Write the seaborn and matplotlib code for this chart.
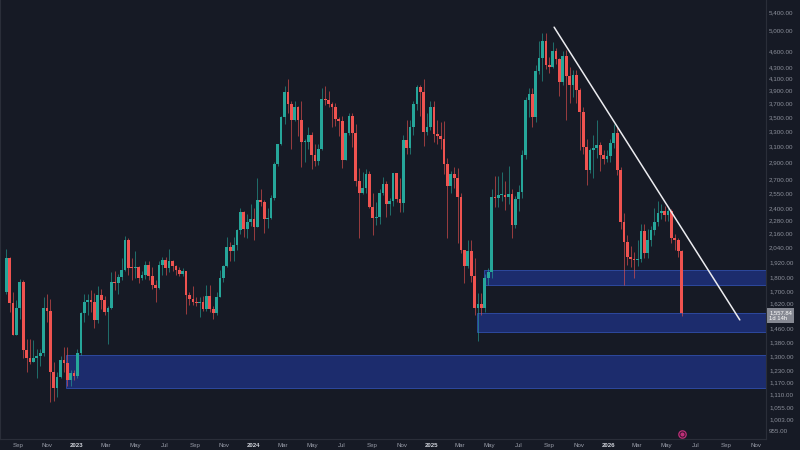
import numpy as np
import pandas as pd
import matplotlib
matplotlib.use("Agg")
import matplotlib.pyplot as plt
import matplotlib.dates as mdates
import matplotlib.ticker as mticker
import matplotlib.transforms as mtransforms
from matplotlib.patches import Rectangle
import seaborn as sns

# weekly candles, first week starts 2022-08-08
first_open = 1700
close_2022 = [1950, 1620, 1421, 1587, 1772, 1335, 1290, 1272, 1290, 1300, 1317, 1587, 1570, 1221, 1140,
              1196, 1280, 1265, 1180, 1215, 1200]
high_2022 = [2030, 1960, 1700, 1640, 1790, 1780, 1400, 1400, 1390, 1340, 1340, 1660, 1680, 1650, 1270,
             1220, 1300, 1350, 1350, 1230, 1230]
low_2022 = [1680, 1560, 1420, 1420, 1520, 1290, 1220, 1260, 1270, 1190, 1250, 1300, 1500, 1075, 1080,
            1100, 1190, 1220, 1150, 1150, 1180]

close_2023 = [1320, 1555, 1630, 1643, 1630, 1512, 1678, 1640, 1565, 1590, 1772, 1760, 1808, 1860, 2100,
              1872, 1870, 1880, 1800, 1820, 1900, 1810, 1750, 1725, 1900, 1935, 1870, 1930, 1890, 1860,
              1830, 1850, 1678, 1650, 1630, 1620, 1625, 1580, 1670, 1580, 1557, 1665, 1798, 1890, 2040,
              2010, 2060, 2190, 2360, 2200, 2270, 2290]
high_2023 = [1340, 1560, 1680, 1680, 1710, 1690, 1740, 1720, 1670, 1600, 1840, 1850, 1830, 1950, 2140,
             2125, 1950, 2010, 1890, 1850, 1930, 1930, 1880, 1780, 1930, 1960, 1960, 2030, 1940, 1900,
             1880, 1870, 1850, 1700, 1740, 1660, 1660, 1670, 1750, 1750, 1600, 1700, 1860, 1900, 2130,
             2090, 2130, 2200, 2400, 2370, 2340, 2440]
low_2023 = [1190, 1310, 1500, 1540, 1560, 1460, 1490, 1580, 1540, 1370, 1580, 1710, 1680, 1780, 1850,
            1820, 1780, 1800, 1760, 1780, 1790, 1780, 1720, 1630, 1720, 1820, 1820, 1840, 1850, 1820,
            1810, 1810, 1550, 1610, 1610, 1600, 1530, 1570, 1570, 1560, 1520, 1540, 1660, 1770, 1880,
            1930, 1930, 2020, 2160, 2130, 2120, 2230]

close_2024 = [2220, 2480, 2460, 2290, 2300, 2500, 2880, 3130, 3500, 3880, 3690, 3460, 3650, 3450, 3150,
              3150, 3250, 2990, 2920, 3070, 3770, 3750, 3690, 3640, 3470, 3440, 2930, 3270, 3510, 3280,
              2680, 2560, 2610, 2760, 2410, 2300, 2310, 2560, 2650, 2440, 2470, 2770, 2490, 2450, 3180,
              3080, 3360, 3690, 3960, 3880, 3290, 3360, 3650]
high_2024 = [2400, 2720, 2600, 2480, 2400, 2530, 2900, 3130, 3520, 3970, 4090, 3730, 3730, 3660, 3730,
             3200, 3360, 3290, 3130, 3130, 3950, 3980, 3890, 3720, 3700, 3500, 3520, 3280, 3560, 3560,
             3400, 2830, 2790, 2820, 2800, 2550, 2460, 2600, 2730, 2690, 2500, 2770, 2770, 2720, 3250,
             3450, 3450, 3730, 4000, 4000, 4100, 3550, 3740]
low_2024 = [2100, 2220, 2420, 2170, 2210, 2290, 2480, 2860, 3120, 3400, 3560, 3060, 3440, 3230, 2850,
            2900, 3060, 2820, 2860, 2870, 3050, 3680, 3640, 3360, 3370, 3240, 2830, 2960, 3250, 3090,
            2630, 2120, 2540, 2550, 2400, 2150, 2240, 2250, 2530, 2310, 2330, 2420, 2460, 2360, 2360,
            3000, 3000, 3250, 3600, 3520, 3100, 3250, 3320]

close_2025 = [3260, 3230, 3190, 2880, 2630, 2760, 2720, 2510, 2020, 1890, 2010, 1810, 1590, 1615, 1590,
              1800, 1840, 2510, 2500, 2530, 2530, 2510, 2540, 2240, 2490, 2570, 2990, 3750, 3850, 3500,
              4230, 4465, 4790, 4330, 4300, 4600, 4450, 4050, 4510, 4140, 3990, 4160, 3910, 3577, 3095,
              2807, 3055, 3075, 3110, 2990, 2946, 2980]
high_2025 = [3740, 3450, 3430, 3440, 2950, 2800, 2850, 2830, 2550, 2010, 2100, 2100, 1950, 1690, 1690,
             1830, 1870, 2600, 2740, 2740, 2790, 2680, 2860, 2600, 2520, 2640, 3050, 3800, 3940, 3940,
             4330, 4790, 4950, 4950, 4490, 4770, 4650, 4470, 4590, 4620, 4300, 4250, 4250, 3950, 3650,
             3200, 3080, 3250, 3450, 3150, 3050, 3050]
low_2025 = [3160, 3130, 3060, 2760, 2120, 2550, 2610, 2080, 1990, 1760, 1870, 1770, 1540, 1385, 1540,
            1560, 1750, 1800, 2410, 2410, 2470, 2380, 2440, 2120, 2210, 2370, 2500, 2940, 3500, 3350,
            3420, 4180, 4060, 4260, 4200, 4280, 4350, 3820, 4000, 3450, 3700, 3800, 3700, 3050, 3000,
            2640, 2780, 2720, 2950, 2800, 2880, 2900]

close_2026 = [3145, 3274, 2807, 2268, 2090, 1964, 1945, 1935, 1945, 2180, 1990, 2100, 2190, 2270, 2350,
              2370, 2330, 2370, 2120, 2100, 2010, 1557.84]
high_2026 = [3200, 3400, 3350, 2850, 2350, 2150, 2050, 2000, 2100, 2250, 2250, 2200, 2230, 2400, 2470,
             2440, 2420, 2400, 2390, 2160, 2120, 2020]
low_2026 = [2900, 3080, 2750, 2200, 1750, 1900, 1880, 1800, 1890, 1920, 1950, 1950, 2050, 2150, 2230,
            2290, 2280, 2280, 2080, 2020, 1960, 1535]

# demand zones (start date, low, high)
zone_start = ["2022-12-10", "2025-04-19", "2025-04-04"]
zone_low = [1140, 1748, 1440]
zone_high = [1308, 1860, 1553]

# falling trendline
trend_dates = ["2025-09-11", "2026-09-29"]
trend_prices = [5072, 1512]

price_ticks = [5400, 5000, 4600, 4300, 4100, 3900, 3700, 3500, 3300, 3100, 2900, 2700, 2550, 2400,
               2280, 2160, 2040, 1920, 1800, 1700, 1620, 1460, 1380, 1300, 1230, 1170, 1110, 1055,
               1003, 955]
month_ticks = pd.date_range("2022-09-01", "2026-11-01", freq="2MS")
month_labels = ["Sep", "Nov", "2023", "Mar", "May", "Jul", "Sep", "Nov", "2024", "Mar", "May", "Jul",
                "Sep", "Nov", "2025", "Mar", "May", "Jul", "Sep", "Nov", "2026", "Mar", "May", "Jul",
                "Sep", "Nov"]

closes = close_2022 + close_2023 + close_2024 + close_2025 + close_2026
highs = high_2022 + high_2023 + high_2024 + high_2025 + high_2026
lows = low_2022 + low_2023 + low_2024 + low_2025 + low_2026

df = pd.DataFrame({
    "week": pd.date_range("2022-08-08", periods=len(closes), freq="7D"),
    "open": [first_open] + closes[:-1],
    "close": closes,
    "high": highs,
    "low": lows,
})
df["high"] = df[["high", "open", "close"]].max(axis=1)
df["low"] = df[["low", "open", "close"]].min(axis=1)

bg = "#161a25"
teal = "#26a69a"
red = "#ef5350"

sns.set_theme(style="dark", rc={"axes.facecolor": bg, "figure.facecolor": bg, "axes.grid": False})
plt.rcParams["font.family"] = ["Liberation Sans", "DejaVu Sans"]

fig = plt.figure(figsize=(8, 4.5), dpi=100)
ax = fig.add_axes([0, 11 / 450, 766 / 800, 439 / 450])
ax.set_facecolor(bg)

x_left = pd.Timestamp("2022-07-26 05:00")
x_right = pd.Timestamp("2026-11-22")

# zones
for s0, lo, hi in zip(zone_start, zone_low, zone_high):
    x0 = mdates.date2num(pd.Timestamp(s0))
    x1 = mdates.date2num(x_right + pd.Timedelta(days=30))
    ax.add_patch(Rectangle((x0, lo), x1 - x0, hi - lo, facecolor="#1e3180", edgecolor="#3252b4",
                           lw=0.7, alpha=0.8, zorder=1))

# candles
df_up = df[df["close"] >= df["open"]]
df_dn = df[df["close"] < df["open"]]
for part, col in ((df_up, teal), (df_dn, red)):
    ax.vlines(part["week"], part["low"], part["high"], color=col, lw=0.6, alpha=0.7, zorder=2)
    body_lo = np.minimum(part["open"], part["close"])
    body_h = np.maximum((part["close"] - part["open"]).abs(), body_lo * 0.005)
    ax.bar(part["week"], body_h, bottom=body_lo, width=5.6, color=col, lw=0, zorder=3)

sns.lineplot(x=pd.to_datetime(trend_dates), y=trend_prices, color="#ececf0", lw=1.1, ax=ax, zorder=4)

ax.set_yscale("log")
ax.set_xlim(x_left, x_right)
ax.set_ylim(924, 5675)

ax.yaxis.tick_right()
ax.set_yticks(price_ticks)
ax.set_yticklabels([f"{v:,.2f}" for v in price_ticks])
ax.yaxis.set_minor_locator(mticker.NullLocator())
ax.tick_params(axis="y", length=0, pad=2.2, labelsize=4.5, labelcolor="#8c909b")

ax.set_xticks(month_ticks)
ax.set_xticklabels(month_labels)
ax.xaxis.set_minor_locator(mticker.NullLocator())
ax.tick_params(axis="x", length=0, pad=3.2, labelsize=4.4, labelcolor="#9a9eaa")
for lbl in ax.get_xticklabels():
    if lbl.get_text().isdigit():
        lbl.set_fontweight("bold")
        lbl.set_color("#d1d4dc")

ax.set_xlabel("")
ax.set_ylabel("")
for name, sp in ax.spines.items():
    sp.set_color("#2a2e39")
    sp.set_linewidth(0.8)
ax.spines["top"].set_visible(False)

# last price tag
last = df.iloc[-1]
trans = mtransforms.offset_copy(mtransforms.blended_transform_factory(ax.transAxes, ax.transData),
                                fig=fig, y=-3, units="dots")
ax.text(1.004, last["close"], f"{last['close']:,.2f}\n1d 14h", transform=trans, ha="left",
        va="center", fontsize=4.2, color="white", linespacing=1.15, clip_on=False,
        bbox=dict(boxstyle="square,pad=0.35", fc="#868993", ec="none"))

# event marker under the last candle
ev_trans = mtransforms.blended_transform_factory(ax.transData, ax.transAxes)
ax.scatter([last["week"]], [0.012], transform=ev_trans, s=28, facecolor="#2a1226",
           edgecolor="#c0307a", lw=0.9, zorder=5, clip_on=False)
ax.scatter([last["week"]], [0.012], transform=ev_trans, s=4, color="#c0307a", zorder=6, clip_on=False)

fig.savefig("out.png", dpi=100, facecolor=bg)
